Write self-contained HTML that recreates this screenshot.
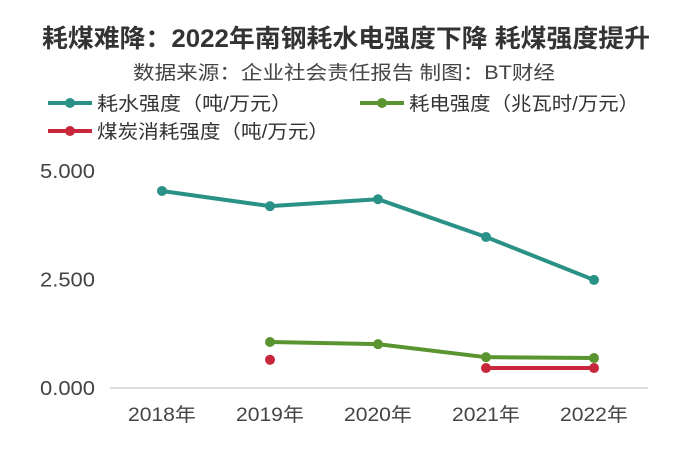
<!DOCTYPE html>
<html><head><meta charset="utf-8"><style>
body{margin:0;background:#fff;width:700px;height:450px;overflow:hidden;font-family:"Liberation Sans","Noto Sans CJK SC",sans-serif;}
</style></head><body>
<svg width="700" height="450" font-family="Liberation Sans, Noto Sans CJK SC, sans-serif">
<text x="42" y="47" font-size="25" font-weight="bold" fill="#333" textLength="608" lengthAdjust="spacingAndGlyphs">耗煤难降：2022年南钢耗水电强度下降 耗煤强度提升</text>
<text x="133" y="79" font-size="19" fill="#444" textLength="422" lengthAdjust="spacingAndGlyphs">数据来源：企业社会责任报告  制图：BT财经</text>
<g><line x1="48" y1="103" x2="92" y2="103" stroke="#2a9187" stroke-width="4"/><circle cx="70" cy="103" r="5" fill="#2a9187"/><text x="97" y="110" font-size="19" fill="#333" textLength="195" lengthAdjust="spacingAndGlyphs">耗水强度（吨/万元）</text></g>
<g><line x1="360" y1="103" x2="404" y2="103" stroke="#5a9430" stroke-width="4"/><circle cx="382" cy="103" r="5" fill="#5a9430"/><text x="409" y="110" font-size="19" fill="#333" textLength="230" lengthAdjust="spacingAndGlyphs">耗电强度（兆瓦时/万元）</text></g>
<g><line x1="48" y1="131" x2="92" y2="131" stroke="#c8263a" stroke-width="4"/><circle cx="70" cy="131" r="5" fill="#c8263a"/><text x="97" y="138" font-size="19" fill="#333" textLength="232" lengthAdjust="spacingAndGlyphs">煤炭消耗强度（吨/万元）</text></g>
<g id="plot"></g>
</svg>
<script>
const categories=["2018年","2019年","2020年","2021年","2022年"];
const water=[4.54,4.19,4.35,3.48,2.49];
const electricity=[null,1.06,1.01,0.71,0.69];
const coal=[null,0.65,null,0.46,0.46];
const yTicks=[0,2.5,5];
const yTickLabels=["0.000","2.500","5.000"];
const NS="http://www.w3.org/2000/svg";
const g=document.getElementById('plot');
const xs=i=>162+i*108;
const ys=v=>388-v*43.4;
function el(t,a){const e=document.createElementNS(NS,t);for(const k in a)e.setAttribute(k,a[k]);g.appendChild(e);return e;}
let ax=el('line',{x1:110,y1:388,x2:648,y2:388,stroke:'#bbb','stroke-width':1});


yTicks.forEach((v,i)=>{const t=el('text',{x:95,y:ys(v)+7,'text-anchor':'end','font-size':20,fill:'#444',textLength:55,lengthAdjust:'spacingAndGlyphs'});t.textContent=yTickLabels[i];

});
categories.forEach((c,i)=>{const t=el('text',{x:xs(i),y:421,'text-anchor':'middle','font-size':19,fill:'#444',textLength:68,lengthAdjust:'spacingAndGlyphs'});t.textContent=c;

});
function series(arr,color,name){
 let segs=[],cur=[];
 arr.forEach((v,i)=>{if(v==null){if(cur.length)segs.push(cur);cur=[];}else cur.push([xs(i),ys(v)]);});
 if(cur.length)segs.push(cur);
 segs.forEach(s=>{if(s.length>1){const p=el('polyline',{points:s.map(q=>q.join(',')).join(' '),fill:'none',stroke:color,'stroke-width':4,'stroke-linejoin':'round'});
 
 }});
 arr.forEach((v,i)=>{if(v==null)return;const c=el('circle',{cx:xs(i),cy:ys(v),r:5,fill:color});
 
 });
}
series(water,'#2a9187','water');
series(electricity,'#5a9430','electricity');
series(coal,'#c8263a','coal');
</script>
</body></html>
